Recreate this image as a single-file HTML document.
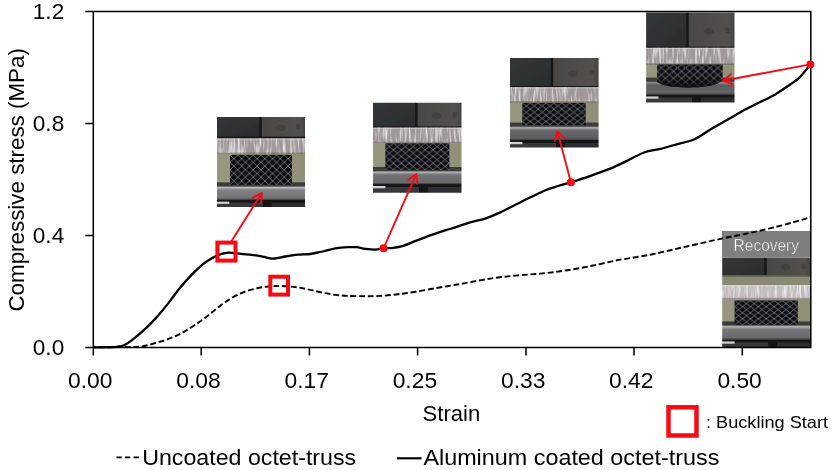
<!DOCTYPE html>
<html><head><meta charset="utf-8"><title>Stress-strain chart</title>
<style>
html,body{margin:0;padding:0;background:#fff}
svg{display:block}
text{font-family:"Liberation Sans",sans-serif;fill:#000}
</style></head><body>
<svg width="832" height="470" viewBox="0 0 832 470">
<defs>
<filter id="blur" x="-5%" y="-5%" width="110%" height="110%"><feGaussianBlur stdDeviation="0.45"/></filter>
<pattern id="lat1" x="230.0" y="154.9" width="7.74" height="7.45" patternUnits="userSpaceOnUse"><path d="M0 0L7.74 7.45M7.74 0L0 7.45" stroke="#7e7f86" stroke-width="0.8" fill="none"/></pattern><pattern id="lat2" x="385.4" y="143.3" width="7.95" height="6.60" patternUnits="userSpaceOnUse"><path d="M0 0L7.95 6.60M7.95 0L0 6.60" stroke="#7e7f86" stroke-width="0.8" fill="none"/></pattern><pattern id="lat3" x="522.3" y="102.9" width="7.90" height="6.20" patternUnits="userSpaceOnUse"><path d="M0 0L7.90 6.20M7.90 0L0 6.20" stroke="#7e7f86" stroke-width="0.8" fill="none"/></pattern><pattern id="lat4" x="657.2" y="64.4" width="8.10" height="7.00" patternUnits="userSpaceOnUse"><path d="M0 0L8.10 7.00M8.10 0L0 7.00" stroke="#7e7f86" stroke-width="0.8" fill="none"/></pattern><pattern id="lat5" x="734.6" y="300.5" width="7.90" height="6.10" patternUnits="userSpaceOnUse"><path d="M0 0L7.90 6.10M7.90 0L0 6.10" stroke="#7e7f86" stroke-width="0.8" fill="none"/></pattern>
<filter id="noise" x="0" y="0" width="100%" height="100%"><feTurbulence type="fractalNoise" baseFrequency="0.42 0.05" numOctaves="2" seed="7"/><feColorMatrix type="matrix" values="0 0 0 0 0.93  0 0 0 0 0.91  0 0 0 0 0.91  2.4 0 0 0 -1.08"/><feComposite in2="SourceGraphic" operator="in"/></filter>
<linearGradient id="blkL" x1="0" y1="0" x2="1" y2="1"><stop offset="0" stop-color="#35373a"/><stop offset="1" stop-color="#2a2c2f"/></linearGradient>
<linearGradient id="blkR" x1="0" y1="0" x2="1" y2="0"><stop offset="0" stop-color="#4a4643"/><stop offset="0.8" stop-color="#55504c"/><stop offset="1" stop-color="#3e3a38"/></linearGradient>
<linearGradient id="khaki" x1="0" y1="0" x2="1" y2="0"><stop offset="0" stop-color="#98977f"/><stop offset="1" stop-color="#908f78"/></linearGradient>
<linearGradient id="fade" x1="0" y1="0" x2="0" y2="1"><stop offset="0.55" stop-color="#0e0e12" stop-opacity="0"/><stop offset="1" stop-color="#0e0e12" stop-opacity="0.9"/></linearGradient>

<linearGradient id="plate" x1="0" y1="0" x2="0" y2="1"><stop offset="0" stop-color="#b9b2b3"/><stop offset="0.5" stop-color="#a59d9f"/><stop offset="1" stop-color="#9a9294"/></linearGradient>
<pattern id="streak" width="11" height="20" patternUnits="userSpaceOnUse"><rect x="1" y="0" width="1.2" height="20" fill="#e6e0e0" opacity=".7"/><rect x="4.5" y="2" width="1" height="14" fill="#6f686a" opacity=".6"/><rect x="7" y="0" width="1.4" height="18" fill="#ddd6d6" opacity=".7"/><rect x="9.5" y="3" width="0.8" height="15" fill="#777072" opacity=".5"/></pattern>
<linearGradient id="lowp1" x1="0" y1="0" x2="0" y2="1"><stop offset="0" stop-color="#3c3c3e"/><stop offset="0.12" stop-color="#b8b8bc"/><stop offset="0.3" stop-color="#808083"/><stop offset="0.85" stop-color="#747477"/><stop offset="1" stop-color="#2e2e30"/></linearGradient><linearGradient id="lowp2" x1="0" y1="0" x2="0" y2="1"><stop offset="0" stop-color="#3c3c3e"/><stop offset="0.12" stop-color="#b4b4b8"/><stop offset="0.3" stop-color="#747477"/><stop offset="0.85" stop-color="#68686b"/><stop offset="1" stop-color="#2e2e30"/></linearGradient><linearGradient id="lowp3" x1="0" y1="0" x2="0" y2="1"><stop offset="0" stop-color="#3c3c3e"/><stop offset="0.12" stop-color="#b0b0b4"/><stop offset="0.3" stop-color="#68686b"/><stop offset="0.85" stop-color="#5e5e61"/><stop offset="1" stop-color="#2e2e30"/></linearGradient><linearGradient id="lowp4" x1="0" y1="0" x2="0" y2="1"><stop offset="0" stop-color="#3c3c3e"/><stop offset="0.12" stop-color="#8a8a8d"/><stop offset="0.3" stop-color="#5c5c5f"/><stop offset="0.85" stop-color="#66666a"/><stop offset="1" stop-color="#2e2e30"/></linearGradient><linearGradient id="lowp5" x1="0" y1="0" x2="0" y2="1"><stop offset="0" stop-color="#3c3c3e"/><stop offset="0.12" stop-color="#b4b4b8"/><stop offset="0.3" stop-color="#77777a"/><stop offset="0.85" stop-color="#6a6a6d"/><stop offset="1" stop-color="#2e2e30"/></linearGradient>
</defs>
<rect width="832" height="470" fill="#fff"/>

<clipPath id="c1"><rect x="217.0" y="117.0" width="88.0" height="90.0"/></clipPath><g clip-path="url(#c1)"><g filter="url(#blur)"><rect x="215.0" y="115.0" width="92.0" height="94.0" fill="#141415"/><rect x="215.0" y="115.0" width="44.3" height="21.6" fill="url(#blkL)"/><rect x="261.7" y="115.0" width="46.5" height="21.6" fill="url(#blkR)"/><ellipse cx="280.5" cy="127.8" rx="5" ry="3.2" fill="#3c3836" opacity=".6"/><ellipse cx="298.0" cy="126.8" rx="2.2" ry="3" fill="#3a3634" opacity=".6"/><rect x="215.0" y="138.4" width="92.0" height="15.4" fill="#9f979a"/><rect x="215.0" y="138.4" width="92.0" height="15.4" fill="#fff" filter="url(#noise)"/><rect x="215.0" y="152.6" width="92.0" height="1.2" fill="#6d686a" opacity=".5"/><rect x="215.0" y="138.4" width="92.0" height="1.3" fill="#e4dfe0" opacity=".55"/><rect x="215.0" y="153.8" width="92.0" height="32.0" fill="url(#khaki)"/><rect x="215.0" y="182.4" width="92.0" height="3.6" fill="#3a3a38"/><rect x="215.0" y="185.8" width="92.0" height="14.4" fill="url(#lowp1)"/><rect x="230.0" y="154.9" width="61.9" height="29.8" fill="#0e0e12"/><rect x="230.0" y="154.9" width="61.9" height="29.8" fill="url(#lat1)"/><rect x="215.0" y="200.2" width="92.0" height="8.8" fill="#131314"/><rect x="215.0" y="202.6" width="47.8" height="6.8" fill="#38383a"/><rect x="271.6" y="202.6" width="37.2" height="6.8" fill="#2e2e30"/><rect x="215.0" y="201.6" width="14.3" height="2.3" fill="#cfcfd1"/></g></g>
<clipPath id="c2"><rect x="373.0" y="102.8" width="88.5" height="89.9"/></clipPath><g clip-path="url(#c2)"><g filter="url(#blur)"><rect x="371.0" y="100.8" width="92.5" height="93.9" fill="#141415"/><rect x="371.0" y="100.8" width="44.2" height="25.6" fill="url(#blkL)"/><rect x="417.6" y="100.8" width="47.1" height="25.6" fill="url(#blkR)"/><ellipse cx="436.7" cy="115.8" rx="5" ry="3.2" fill="#3c3836" opacity=".6"/><ellipse cx="454.5" cy="114.8" rx="2.2" ry="3" fill="#3a3634" opacity=".6"/><rect x="371.0" y="127.6" width="92.5" height="15.4" fill="#9f979a"/><rect x="371.0" y="127.6" width="92.5" height="15.4" fill="#fff" filter="url(#noise)"/><rect x="371.0" y="141.8" width="92.5" height="1.2" fill="#6d686a" opacity=".5"/><rect x="371.0" y="127.6" width="92.5" height="1.3" fill="#e4dfe0" opacity=".55"/><rect x="371.0" y="143.0" width="92.5" height="27.4" fill="url(#khaki)"/><rect x="371.0" y="167.0" width="92.5" height="3.6" fill="#3a3a38"/><rect x="371.0" y="170.4" width="92.5" height="14.2" fill="url(#lowp2)"/><rect x="385.4" y="143.3" width="63.9" height="26.5" fill="#0e0e12"/><rect x="385.4" y="143.3" width="63.9" height="26.5" fill="url(#lat2)"/><rect x="371.0" y="184.6" width="92.5" height="10.1" fill="#131314"/><rect x="371.0" y="187.0" width="48.0" height="8.1" fill="#38383a"/><rect x="427.9" y="187.0" width="37.4" height="8.1" fill="#2e2e30"/><rect x="371.0" y="186.0" width="14.4" height="2.3" fill="#cfcfd1"/></g></g>
<clipPath id="c3"><rect x="510.0" y="58.0" width="88.6" height="89.6"/></clipPath><g clip-path="url(#c3)"><g filter="url(#blur)"><rect x="508.0" y="56.0" width="92.6" height="93.6" fill="#141415"/><rect x="508.0" y="56.0" width="42.8" height="30.0" fill="url(#blkL)"/><rect x="553.2" y="56.0" width="48.6" height="30.0" fill="url(#blkR)"/><ellipse cx="573.0" cy="73.4" rx="5" ry="3.2" fill="#3c3836" opacity=".6"/><ellipse cx="591.6" cy="72.4" rx="2.2" ry="3" fill="#3a3634" opacity=".6"/><rect x="508.0" y="87.2" width="92.6" height="15.0" fill="#9f979a"/><rect x="508.0" y="87.2" width="92.6" height="15.0" fill="#fff" filter="url(#noise)"/><rect x="508.0" y="101.0" width="92.6" height="1.2" fill="#6d686a" opacity=".5"/><rect x="508.0" y="87.2" width="92.6" height="1.3" fill="#e4dfe0" opacity=".55"/><rect x="508.0" y="102.2" width="92.6" height="23.8" fill="url(#khaki)"/><rect x="508.0" y="122.6" width="92.6" height="3.6" fill="#3a3a38"/><rect x="508.0" y="126.0" width="92.6" height="14.5" fill="url(#lowp3)"/><rect x="522.3" y="102.9" width="63.3" height="22.2" fill="#0e0e12"/><rect x="522.3" y="102.9" width="63.3" height="22.2" fill="url(#lat3)"/><rect x="508.0" y="140.5" width="92.6" height="9.1" fill="#131314"/><rect x="508.0" y="142.9" width="48.1" height="7.1" fill="#38383a"/><rect x="564.9" y="142.9" width="37.4" height="7.1" fill="#2e2e30"/><rect x="508.0" y="141.9" width="14.4" height="2.3" fill="#cfcfd1"/></g></g>
<clipPath id="c4"><rect x="646.1" y="12.5" width="88.4" height="90.0"/></clipPath><g clip-path="url(#c4)"><g filter="url(#blur)"><rect x="644.1" y="10.5" width="92.4" height="94.0" fill="#141415"/><rect x="644.1" y="10.5" width="42.2" height="36.2" fill="url(#blkL)"/><rect x="688.7" y="10.5" width="49.0" height="36.2" fill="url(#blkR)"/><ellipse cx="708.6" cy="31.3" rx="5" ry="3.2" fill="#3c3836" opacity=".6"/><ellipse cx="727.5" cy="30.3" rx="2.2" ry="3" fill="#3a3634" opacity=".6"/><rect x="644.1" y="47.8" width="92.4" height="16.6" fill="#9f979a"/><rect x="644.1" y="47.8" width="92.4" height="16.6" fill="#fff" filter="url(#noise)"/><rect x="644.1" y="63.2" width="92.4" height="1.2" fill="#6d686a" opacity=".5"/><rect x="644.1" y="47.8" width="92.4" height="1.3" fill="#e4dfe0" opacity=".55"/><rect x="644.1" y="64.4" width="92.4" height="16.6" fill="url(#khaki)"/><rect x="644.1" y="77.6" width="92.4" height="3.6" fill="#3a3a38"/><rect x="644.1" y="81.0" width="92.4" height="14.0" fill="url(#lowp4)"/><path d="M657.2 64.4H722.6V80L719 82.5C715 86 700 87.4 690 87.4C680 87.4 668 87 662 84.5L657.2 82Z" fill="#0e0e12"/><path d="M657.2 64.4H722.6V80L719 82.5C715 86 700 87.4 690 87.4C680 87.4 668 87 662 84.5L657.2 82Z" fill="url(#lat4)"/><path d="M657.2 64.4H722.6V80L719 82.5C715 86 700 87.4 690 87.4C680 87.4 668 87 662 84.5L657.2 82Z" fill="url(#fade)"/><rect x="644.1" y="95.0" width="92.4" height="9.5" fill="#131314"/><rect x="644.1" y="97.4" width="48.0" height="7.5" fill="#38383a"/><rect x="700.9" y="97.4" width="37.4" height="7.5" fill="#2e2e30"/><rect x="644.1" y="96.4" width="14.4" height="2.3" fill="#cfcfd1"/></g></g>
<clipPath id="c5"><rect x="722.2" y="257.4" width="88.6" height="89.8"/></clipPath><g clip-path="url(#c5)"><g filter="url(#blur)"><rect x="720.2" y="255.4" width="92.6" height="93.8" fill="#141415"/><rect x="720.2" y="255.4" width="44.1" height="19.8" fill="url(#blkL)"/><rect x="766.7" y="255.4" width="47.3" height="19.8" fill="url(#blkR)"/><ellipse cx="785.9" cy="267.2" rx="5" ry="3.2" fill="#3c3836" opacity=".6"/><ellipse cx="803.8" cy="266.2" rx="2.2" ry="3" fill="#3a3634" opacity=".6"/><rect x="720.2" y="275.2" width="92.6" height="9.8" fill="#8a8972"/><rect x="720.2" y="275.2" width="92.6" height="1.4" fill="#55554a"/><rect x="720.2" y="285.0" width="92.6" height="14.0" fill="#c2babc"/><rect x="720.2" y="285.0" width="92.6" height="14.0" fill="#fff" filter="url(#noise)"/><rect x="720.2" y="297.8" width="92.6" height="1.2" fill="#6d686a" opacity=".5"/><rect x="720.2" y="285.0" width="92.6" height="1.3" fill="#e4dfe0" opacity=".55"/><rect x="720.2" y="299.0" width="92.6" height="25.8" fill="url(#khaki)"/><rect x="720.2" y="321.4" width="92.6" height="3.6" fill="#3a3a38"/><rect x="720.2" y="324.8" width="92.6" height="15.2" fill="url(#lowp5)"/><rect x="734.6" y="300.5" width="63.2" height="24.2" fill="#0e0e12"/><rect x="734.6" y="300.5" width="63.2" height="24.2" fill="url(#lat5)"/><rect x="720.2" y="340.0" width="92.6" height="9.2" fill="#131314"/><rect x="720.2" y="342.4" width="48.1" height="7.2" fill="#38383a"/><rect x="777.1" y="342.4" width="37.4" height="7.2" fill="#2e2e30"/><rect x="720.2" y="341.4" width="14.4" height="2.3" fill="#cfcfd1"/></g></g>
<rect x="722" y="231" width="89" height="26.5" fill="#7f7f7f"/>
<text x="733.6" y="250.5" font-size="16.2" textLength="65.4" lengthAdjust="spacingAndGlyphs" style="fill:#fff;stroke:#7f7f7f;stroke-width:0.45px">Recovery</text>
<path d="M93.3 11.5H810.8V347.4H85.3M93.3 11.5V355.6" fill="none" stroke="#000" stroke-width="1.5"/>
<path d="M201.2 347.4V355.6M309.4 347.4V355.6M417.6 347.4V355.6M526.0 347.4V355.6M634.0 347.4V355.6M742.3 347.4V355.6M85.3 11.5H93.3M85.3 123.5H93.3M85.3 235.5H93.3" fill="none" stroke="#000" stroke-width="1.5"/>
<path d="M93.0 347.3C99.2 347.2 121.7 347.2 130.0 347.0C138.3 346.8 138.6 347.0 142.8 346.3C147.0 345.6 151.2 344.2 155.4 343.0C159.6 341.8 163.8 340.8 168.0 339.2C172.2 337.6 176.3 335.9 180.5 333.7C184.7 331.5 188.8 328.9 193.0 326.2C197.2 323.5 201.4 320.5 205.6 317.4C209.8 314.2 214.0 310.4 218.2 307.3C222.4 304.2 226.6 301.0 230.8 298.5C235.0 296.0 239.1 294.0 243.3 292.3C247.5 290.6 251.7 289.5 255.9 288.5C260.1 287.5 264.2 286.9 268.4 286.5C272.6 286.1 276.1 285.9 281.0 286.0C285.9 286.1 292.8 286.8 297.7 287.4C302.6 288.0 306.1 289.0 310.3 289.9C314.5 290.8 318.6 291.9 322.8 292.7C327.0 293.5 331.2 294.4 335.4 294.9C339.6 295.4 342.9 295.7 347.9 295.9C352.9 296.1 360.1 296.2 365.5 296.2C370.9 296.2 375.2 296.2 380.6 295.9C386.1 295.6 392.3 294.9 398.2 294.2C404.1 293.5 409.5 292.7 415.8 291.7C422.1 290.7 430.0 289.1 435.9 288.1C441.8 287.1 446.1 286.4 451.0 285.6C455.9 284.8 458.6 284.3 465.1 283.1C471.7 281.9 481.9 279.8 490.3 278.6C498.7 277.3 507.0 276.4 515.4 275.6C523.8 274.8 532.1 274.4 540.5 273.6C548.9 272.8 557.2 271.8 565.6 270.5C574.0 269.2 582.4 267.7 590.8 266.0C599.2 264.3 610.4 261.6 615.9 260.5C621.4 259.4 618.5 260.0 624.0 259.1C629.5 258.2 640.7 256.5 649.1 254.9C657.5 253.3 665.9 251.2 674.3 249.3C682.7 247.4 691.0 245.5 699.4 243.6C707.8 241.7 716.1 239.8 724.5 238.0C732.9 236.2 741.2 234.8 749.6 233.0C758.0 231.2 766.4 229.3 774.8 227.2C783.2 225.1 794.0 222.1 799.9 220.4C805.8 218.7 808.6 217.6 810.4 217.0" fill="none" stroke="#000" stroke-width="1.9" stroke-dasharray="5.9 2.75" stroke-dashoffset="3"/>
<path d="M93.0 347.3C96.2 347.3 107.9 347.3 112.0 347.2C116.1 347.1 115.7 346.9 117.7 346.6C119.7 346.3 121.9 346.1 124.0 345.2C126.1 344.3 127.2 343.6 130.3 341.3C133.4 339.0 138.6 335.0 142.8 331.2C147.0 327.4 151.2 323.2 155.4 318.6C159.6 314.0 163.8 308.8 168.0 303.6C172.2 298.4 176.3 292.2 180.5 287.2C184.7 282.2 188.8 277.6 193.0 273.4C197.2 269.2 201.4 265.1 205.6 262.1C209.8 259.0 214.4 256.7 218.2 255.1C222.0 253.5 224.4 252.8 228.2 252.6C232.0 252.4 236.2 253.3 240.8 253.8C245.4 254.2 252.0 254.8 255.9 255.3C259.8 255.8 261.8 256.4 264.0 256.9C266.2 257.4 267.5 257.8 269.0 258.1C270.5 258.4 271.5 258.7 272.8 258.7C274.1 258.7 274.9 258.6 277.0 258.2C279.1 257.8 281.7 257.1 285.1 256.5C288.6 255.9 293.5 255.1 297.7 254.7C301.9 254.3 306.1 254.5 310.3 254.0C314.5 253.5 318.6 252.4 322.8 251.5C327.0 250.6 331.2 249.1 335.4 248.4C339.6 247.7 344.3 247.4 347.9 247.2C351.4 247.0 353.8 246.9 356.7 247.2C359.6 247.5 362.4 248.5 365.5 248.9C368.6 249.3 372.6 249.8 375.6 249.7C378.6 249.6 380.7 248.5 383.6 248.2C386.5 247.9 389.9 248.3 393.2 247.9C396.5 247.5 399.4 247.1 403.2 245.9C407.0 244.7 411.2 242.7 415.8 240.9C420.4 239.1 425.9 236.9 430.9 235.1C435.9 233.3 441.9 231.4 445.9 230.1C449.9 228.8 451.1 228.7 455.1 227.4C459.2 226.1 465.2 223.9 470.2 222.4C475.2 220.9 480.2 220.3 485.2 218.6C490.2 216.9 495.3 214.7 500.3 212.4C505.3 210.1 510.4 207.3 515.4 204.8C520.4 202.3 525.5 199.7 530.5 197.3C535.5 194.9 540.9 192.1 545.5 190.2C550.1 188.3 553.9 187.3 558.1 186.0C562.3 184.7 566.7 183.6 570.9 182.3C575.1 181.0 579.1 179.8 583.2 178.4C587.4 177.0 591.2 175.6 595.8 173.9C600.4 172.2 605.9 170.5 610.9 168.4C615.9 166.3 620.4 164.0 625.9 161.4C631.4 158.7 638.5 154.5 644.1 152.5C649.7 150.5 654.2 150.4 659.2 149.2C664.2 147.9 668.4 146.7 674.3 145.0C680.2 143.3 688.1 141.9 694.4 139.2C700.7 136.5 706.0 132.0 711.9 128.6C717.8 125.2 724.0 121.7 729.5 118.6C735.0 115.5 739.6 112.5 744.6 109.8C749.6 107.1 754.7 104.8 759.7 102.3C764.7 99.8 769.8 97.6 774.8 94.7C779.8 91.8 785.6 87.6 789.8 84.7C794.0 81.8 796.5 80.5 799.9 77.1C803.3 73.7 808.6 66.5 810.4 64.4" fill="none" stroke="#000" stroke-width="2.3" stroke-linejoin="round"/>
<rect x="217.4" y="242.6" width="18.1" height="18" fill="none" stroke="#f60a14" stroke-width="4"/>
<rect x="270.3" y="276.7" width="17.7" height="17.9" fill="none" stroke="#f60a14" stroke-width="4"/>
<path d="M231.5 241.3L261.7 193.0M252.9 197.7L261.7 193.0M261.3 203.0L261.7 193.0" fill="none" stroke="#f60a14" stroke-width="1.9" stroke-linecap="round" stroke-linejoin="round"/>
<path d="M383.6 248.2L416.4 173.9M408.3 179.8L416.4 173.9M417.5 183.8L416.4 173.9" fill="none" stroke="#f60a14" stroke-width="1.9" stroke-linecap="round" stroke-linejoin="round"/>
<path d="M570.9 182.3L557.4 131.2M554.8 140.9L557.4 131.2M564.4 138.3L557.4 131.2" fill="none" stroke="#f60a14" stroke-width="1.9" stroke-linecap="round" stroke-linejoin="round"/>
<path d="M810.4 64.4L723.2 80.7M732.6 84.0L723.2 80.7M730.8 74.2L723.2 80.7" fill="none" stroke="#f60a14" stroke-width="1.9" stroke-linecap="round" stroke-linejoin="round"/>
<circle cx="383.6" cy="248.2" r="4" fill="#f60a14"/>
<circle cx="570.9" cy="182.3" r="4" fill="#f60a14"/>
<circle cx="810.4" cy="64.4" r="4" fill="#f60a14"/>
<text x="68.1" y="387.7" font-size="22.8" textLength="44.4" lengthAdjust="spacingAndGlyphs">0.00</text>
<text x="176.3" y="387.7" font-size="22.8" textLength="44.4" lengthAdjust="spacingAndGlyphs">0.08</text>
<text x="284.5" y="387.7" font-size="22.8" textLength="44.4" lengthAdjust="spacingAndGlyphs">0.17</text>
<text x="392.7" y="387.7" font-size="22.8" textLength="44.4" lengthAdjust="spacingAndGlyphs">0.25</text>
<text x="501.1" y="387.7" font-size="22.8" textLength="44.4" lengthAdjust="spacingAndGlyphs">0.33</text>
<text x="609.1" y="387.7" font-size="22.8" textLength="44.4" lengthAdjust="spacingAndGlyphs">0.42</text>
<text x="717.4" y="387.7" font-size="22.8" textLength="44.4" lengthAdjust="spacingAndGlyphs">0.50</text>
<text x="32.8" y="19.2" font-size="22.8" textLength="31.4" lengthAdjust="spacingAndGlyphs">1.2</text>
<text x="32.8" y="131.2" font-size="22.8" textLength="31.4" lengthAdjust="spacingAndGlyphs">0.8</text>
<text x="32.8" y="243.2" font-size="22.8" textLength="31.4" lengthAdjust="spacingAndGlyphs">0.4</text>
<text x="32.8" y="355.1" font-size="22.8" textLength="31.4" lengthAdjust="spacingAndGlyphs">0.0</text>
<text x="422.6" y="421.4" font-size="22.8" textLength="57.6" lengthAdjust="spacingAndGlyphs">Strain</text>
<text transform="translate(24 311.6) rotate(-90)" font-size="22.8" textLength="263.5" lengthAdjust="spacingAndGlyphs">Compressive stress (MPa)</text>
<path d="M116.4 457.3H139.5" stroke="#000" stroke-width="1.8" stroke-dasharray="5.3 3.3" fill="none"/>
<text x="142.2" y="464.5" font-size="22.8" textLength="214" lengthAdjust="spacingAndGlyphs">Uncoated octet-truss</text>
<path d="M397 458.3H421.5" stroke="#000" stroke-width="2.2" fill="none"/>
<text x="423.4" y="464.5" font-size="22.8" textLength="296" lengthAdjust="spacingAndGlyphs">Aluminum coated octet-truss</text>
<rect x="668.5" y="407.3" width="28" height="28.2" fill="none" stroke="#f60a14" stroke-width="4.5"/>
<text x="706" y="427.6" font-size="16.6" textLength="122" lengthAdjust="spacingAndGlyphs">: Buckling Start</text>
</svg></body></html>
